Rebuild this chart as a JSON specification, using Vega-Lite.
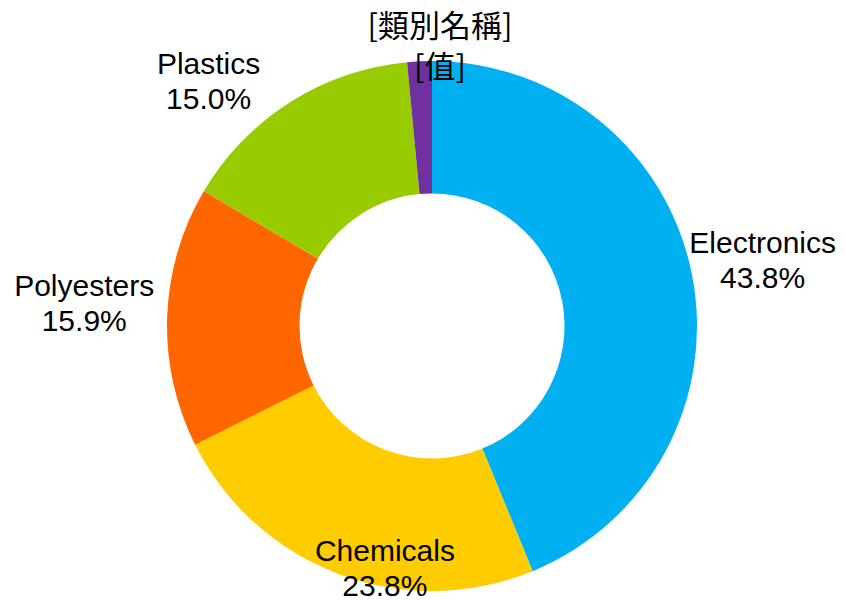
{
  "$schema": "https://vega.github.io/schema/vega-lite/v6.json",
  "width": 864,
  "height": 652,
  "autosize": {"type": "none"},
  "padding": 0,
  "background": "white",
  "config": {"view": {"stroke": null}},
  "data": {
    "values": [
      {"idx": 1, "cat": "Electronics", "value": 43.8, "pct": "43.8%"},
      {"idx": 2, "cat": "Chemicals", "value": 23.8, "pct": "23.8%"},
      {"idx": 3, "cat": "Polyesters", "value": 15.9, "pct": "15.9%"},
      {"idx": 4, "cat": "Plastics", "value": 15.0, "pct": "15.0%"},
      {"idx": 5, "cat": "[類別名稱]", "value": 1.5, "pct": "[值]"}
    ]
  },
  "transform": [
    {"window": [{"op": "sum", "field": "value", "as": "cum"}], "sort": [{"field": "idx"}], "frame": [null, 0]},
    {"calculate": "datum.cum - datum.value / 2", "as": "mid"},
    {"calculate": "datum.cat + '\\n' + datum.pct", "as": "label"}
  ],
  "layer": [
    {
      "mark": {"type": "arc", "radius": 265, "radius2": 132.5},
      "encoding": {
        "theta": {"field": "value", "type": "quantitative", "stack": true, "scale": {"domain": [0, 100]}},
        "order": {"field": "idx", "type": "quantitative"},
        "color": {
          "field": "cat", "type": "nominal", "legend": null,
          "scale": {
            "domain": ["Electronics", "Chemicals", "Polyesters", "Plastics", "[類別名稱]"],
            "range": ["#00B0F0", "#FFCC00", "#FF6600", "#99CC00", "#7030A0"]
          }
        }
      }
    },
    {
      "transform": [{"filter": "datum.cat == 'Electronics'"}],
      "mark": {"type": "text", "radius": 337, "dy": -16.7, "lineBreak": "\n", "font": "Liberation Sans", "fontSize": 30, "lineHeight": 35, "baseline": "middle", "align": "center", "color": "black"},
      "encoding": {
        "theta": {"field": "mid", "type": "quantitative", "stack": null, "scale": {"domain": [0, 100]}},
        "text": {"field": "label", "type": "nominal"}
      }
    },
    {
      "transform": [{"filter": "datum.cat == 'Chemicals'"}],
      "mark": {"type": "text", "radius": 248.5, "dx": 40, "dy": -6.7, "lineBreak": "\n", "font": "Liberation Sans", "fontSize": 30, "lineHeight": 35, "baseline": "middle", "align": "center", "color": "black"},
      "encoding": {
        "theta": {"field": "mid", "type": "quantitative", "stack": null, "scale": {"domain": [0, 100]}},
        "text": {"field": "label", "type": "nominal"}
      }
    },
    {
      "transform": [{"filter": "datum.cat == 'Polyesters'"}],
      "mark": {"type": "text", "radius": 348, "dy": -27, "lineBreak": "\n", "font": "Liberation Sans", "fontSize": 30, "lineHeight": 35, "baseline": "middle", "align": "center", "color": "black"},
      "encoding": {
        "theta": {"field": "mid", "type": "quantitative", "stack": null, "scale": {"domain": [0, 100]}},
        "text": {"field": "label", "type": "nominal"}
      }
    },
    {
      "transform": [{"filter": "datum.cat == 'Plastics'"}],
      "mark": {"type": "text", "radius": 330, "dx": -46.6, "dy": 17.7, "lineBreak": "\n", "font": "Liberation Sans", "fontSize": 30, "lineHeight": 35, "baseline": "middle", "align": "center", "color": "black"},
      "encoding": {
        "theta": {"field": "mid", "type": "quantitative", "stack": null, "scale": {"domain": [0, 100]}},
        "text": {"field": "label", "type": "nominal"}
      }
    },
    {
      "transform": [{"filter": "datum.cat == '[類別名稱]'"}],
      "mark": {"type": "text", "radius": 275.5, "dx": 21, "dy": -23.3, "lineBreak": "\n", "font": "Noto Sans CJK TC", "fontSize": 31, "lineHeight": 41, "baseline": "middle", "align": "center", "color": "black"},
      "encoding": {
        "theta": {"field": "mid", "type": "quantitative", "stack": null, "scale": {"domain": [0, 100]}},
        "text": {"field": "label", "type": "nominal"}
      }
    }
  ]
}
